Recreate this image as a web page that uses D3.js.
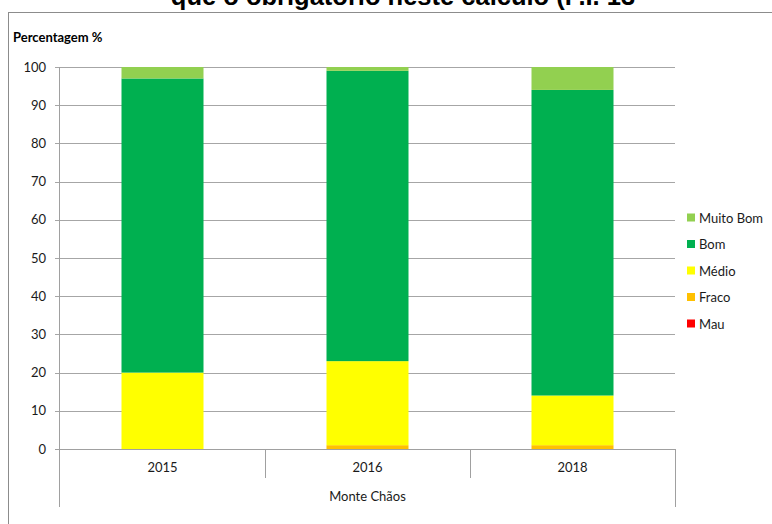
<!DOCTYPE html>
<html>
<head>
<meta charset="utf-8">
<script src="https://cdn.jsdelivr.net/npm/d3@7/dist/d3.min.js"></script>
<style>
  html, body { margin: 0; padding: 0; background: #fff; }
  svg { display: block; }
</style>
</head>
<body>
<svg id="chart" width="772" height="524"></svg>
<script>
// Classes de avaliação (de baixo para cima na pilha)
const classes = ["Mau", "Fraco", "Médio", "Bom", "Muito Bom"];
const colors = ["#ff0000", "#ffc000", "#ffff00", "#00b050", "#92d050"];
const years = ["2015", "2016", "2018"];
const station = "Monte Chãos";

// Percentagens por ano
const mau      = [0, 0, 0];
const fraco    = [0, 1, 1];
const medio    = [20, 22, 13];
const bom      = [77, 76, 80];
const muitoBom = [3, 1, 6];

const yTicks = [0, 10, 20, 30, 40, 50, 60, 70, 80, 90, 100];

const rows = years.map((yr, i) => ({
  year: yr,
  "Mau": mau[i],
  "Fraco": fraco[i],
  "Médio": medio[i],
  "Bom": bom[i],
  "Muito Bom": muitoBom[i]
}));

const svg = d3.select("#chart");
const font = "Lato, 'Open Sans', sans-serif";
const fs = 13;
const textColor = "#1a1a1a";
const gridColor = "#a6a6a6";

// Moldura do gráfico
svg.append("rect")
  .attr("x", 8.5).attr("y", 12.5)
  .attr("width", 800).attr("height", 600)
  .attr("fill", "none").attr("stroke", "#8c8c8c").attr("stroke-width", 1);

// Título (parcialmente cortado no topo)
svg.append("text")
  .attr("x", 403).attr("y", 5)
  .attr("text-anchor", "middle")
  .attr("font-family", "'Liberation Sans', Arial, sans-serif")
  .attr("font-weight", "bold")
  .attr("font-size", 25.5)
  .attr("fill", "#000")
  .text("que o obrigatório neste cálculo (P.I. 13");

const plot = { left: 60, right: 675, top: 67, bottom: 449 };

const x = d3.scaleBand().domain(years).range([plot.left, plot.right]).paddingInner(0).paddingOuter(0);
const y = d3.scaleLinear().domain([0, 100]).range([plot.bottom, plot.top]);

// Linhas de grelha
svg.append("g")
  .selectAll("line")
  .data(yTicks)
  .join("line")
  .attr("x1", plot.left - 5).attr("x2", plot.right)
  .attr("y1", d => Math.round(y(d)) + 0.5).attr("y2", d => Math.round(y(d)) + 0.5)
  .attr("stroke", gridColor).attr("stroke-width", 1);

// Eixo Y
const yAxis = svg.append("g")
  .attr("transform", `translate(${plot.left},0)`)
  .call(d3.axisLeft(y).tickValues(yTicks).tickSize(0).tickPadding(14));
yAxis.select(".domain").remove();
yAxis.selectAll("text")
  .attr("font-family", font).attr("font-size", fs).attr("fill", textColor);

// Barras empilhadas
const stack = d3.stack().keys(classes)(rows);
const color = d3.scaleOrdinal().domain(classes).range(colors);
const barW = x.bandwidth() * 0.4;

svg.append("g")
  .selectAll("g")
  .data(stack)
  .join("g")
  .attr("fill", d => color(d.key))
  .selectAll("rect")
  .data(d => d)
  .join("rect")
  .attr("x", d => x(d.data.year) + (x.bandwidth() - barW) / 2)
  .attr("width", barW)
  .attr("y", d => y(d[1]))
  .attr("height", d => y(d[0]) - y(d[1]));

// Linha do eixo X e limites do eixo de categorias
const axisColor = "#a0a0a0";
svg.append("line")
  .attr("x1", plot.left - 5).attr("x2", plot.right)
  .attr("y1", plot.bottom + 0.5).attr("y2", plot.bottom + 0.5)
  .attr("stroke", axisColor);
svg.append("line")
  .attr("x1", plot.left - 0.5).attr("x2", plot.left - 0.5)
  .attr("y1", plot.top).attr("y2", 507)
  .attr("stroke", axisColor);
svg.append("line")
  .attr("x1", plot.right + 0.5).attr("x2", plot.right + 0.5)
  .attr("y1", plot.bottom).attr("y2", 507)
  .attr("stroke", axisColor);

// Separadores entre anos
svg.append("g")
  .selectAll("line")
  .data(years.slice(1))
  .join("line")
  .attr("x1", d => Math.round(x(d)) + 0.5).attr("x2", d => Math.round(x(d)) + 0.5)
  .attr("y1", plot.bottom).attr("y2", 478)
  .attr("stroke", axisColor);

// Rótulos das categorias
svg.append("g")
  .selectAll("text")
  .data(years)
  .join("text")
  .attr("x", d => x(d) + x.bandwidth() / 2)
  .attr("y", 472)
  .attr("text-anchor", "middle")
  .attr("font-family", font).attr("font-size", fs).attr("fill", textColor)
  .text(d => d);

svg.append("text")
  .attr("x", (plot.left + plot.right) / 2)
  .attr("y", 501)
  .attr("text-anchor", "middle")
  .attr("font-family", font).attr("font-size", fs).attr("fill", textColor)
  .text(station);

// Título do eixo Y
svg.append("text")
  .attr("x", 13).attr("y", 42)
  .attr("font-family", font).attr("font-weight", "bold")
  .attr("font-size", 13).attr("fill", "#000")
  .text("Percentagem %");

// Legenda (ordem inversa da pilha)
const legendItems = classes.slice().reverse();
const legend = svg.append("g")
  .selectAll("g")
  .data(legendItems)
  .join("g")
  .attr("transform", (d, i) => `translate(687, ${218 + i * 26.5})`);
legend.append("rect")
  .attr("x", 0).attr("y", -4.5)
  .attr("width", 8).attr("height", 8)
  .attr("fill", d => color(d));
legend.append("text")
  .attr("x", 12).attr("y", 4.5)
  .attr("font-family", font).attr("font-size", fs).attr("fill", textColor)
  .text(d => d);
</script>
</body>
</html>
